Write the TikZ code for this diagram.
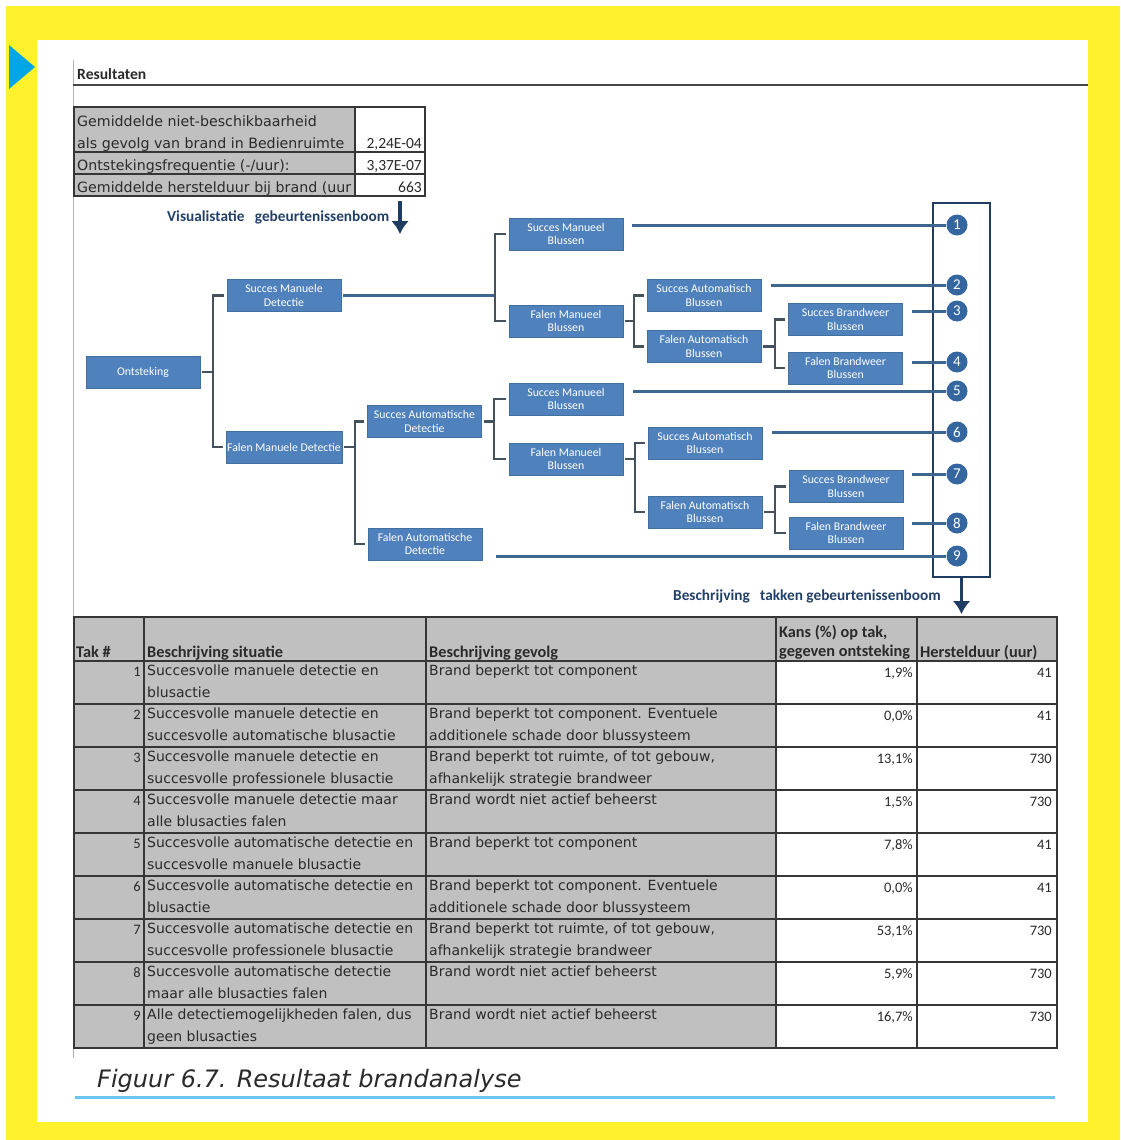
\documentclass[tikz,border=0pt]{standalone}
\usepackage{fontspec}
\setmainfont{DejaVu Sans}
\newfontfamily\calfont{Carlito}
\usetikzlibrary{arrows.meta,calc}

\definecolor{pageyellow}{HTML}{FFF12C}
\definecolor{markerblue}{HTML}{00A6E6}
\definecolor{boxblue}{HTML}{4F81BD}
\definecolor{boxedge}{HTML}{41709F}
\definecolor{linkblue}{HTML}{3D6690}
\definecolor{bracketgray}{HTML}{46515E}
\definecolor{navy}{HTML}{1F3D63}
\definecolor{numblue}{HTML}{3566A0}
\definecolor{cellgray}{HTML}{C0C0C0}
\definecolor{gridline}{HTML}{363636}
\definecolor{inktext}{HTML}{2A2A2A}
\definecolor{rulecyan}{HTML}{6CC6EE}
\definecolor{titleblue}{HTML}{23406A}

% two lines of text in one cell; the second is set only when given
\newcommand\lineifany[4]{%
  \if\relax\detokenize{#4}\relax\else
    \node[body, anchor=base west] (#1) at (#2,#3) {#4};
  \fi}

% one row of the branch table
\newcommand\tabrow[8]{%
  \pgfmathsetmacro\rowtop{661+43*(#1-1)}
  \node[num, anchor=base east] (tak#1) at (141,\rowtop+15) {#2};
  \node[body, anchor=base west] (sit#1a) at (147,\rowtop+14.5) {#3};
  \lineifany{sit#1b}{147}{\rowtop+36.5}{#4}
  \node[body, anchor=base west] (gev#1a) at (429,\rowtop+14.5) {#5};
  \lineifany{gev#1b}{429}{\rowtop+36.5}{#6}
  \node[num, anchor=base east] (kans#1) at (913,\rowtop+16) {#7};
  \node[num, anchor=base east] (hd#1) at (1052,\rowtop+16) {#8};
}

% a parent event split into two child events with a square bracket
\newcommand\branchpair[5][brk]{%
  \coordinate (#2-k) at (#3,0);
  \draw[#1] ($(#2.east)+(2,0)$) -- (#2.east -| #2-k);
  \draw[brk] ($(#4.west)+(-3,0)$) -- (#4.west -| #2-k) -- (#5.west -| #2-k) -- ($(#5.west)+(-3,0)$);
}

\begin{document}
\begin{tikzpicture}[x=1pt,y=-1pt,
  evt/.style={draw=boxedge, line width=0.6pt, fill=boxblue, text=white,
    font=\calfont\fontsize{11.8}{13.5}\selectfont, align=center,
    minimum width=114pt, minimum height=32pt, inner sep=1pt},
  brk/.style={draw=bracketgray, line width=2.5pt, line join=miter},
  lnk/.style={draw=linkblue, line width=3pt},
  endno/.style={circle, fill=numblue, text=white,
    font=\calfont\fontsize{15}{15}\selectfont, minimum size=21pt, inner sep=0pt},
  body/.style={font=\fontsize{14}{16}\selectfont, text=inktext, inner sep=0pt},
  topbody/.style={font=\fontsize{14.2}{16}\selectfont, text=inktext, inner sep=0pt},
  hdr/.style={font=\calfont\bfseries\fontsize{16.3}{18}\selectfont, text=inktext, inner sep=0pt},
  num/.style={font=\calfont\fontsize{14.5}{16}\selectfont, text=inktext, inner sep=0pt},
  grid/.style={draw=gridline, line width=1.6pt},
  bigarrow/.style={draw=navy, line width=3.2pt, -{Latex[length=13pt,width=18pt]}},
  headline/.style={font=\calfont\bfseries\fontsize{15.3}{17}\selectfont, text=titleblue, inner sep=0pt}
]
\useasboundingbox (0,0) rectangle (1120,1140);

% frame
\fill[white] (0,0) rectangle (1120,1140);
\fill[pageyellow] (6,6) rectangle (1120,1140);
\fill[white] (37,40) rectangle (1088,1122);
\fill[markerblue] (9,45) -- (35,67) -- (9,89) -- cycle;

% sheet rules
\draw[gray!60, line width=1pt] (73,60) -- (73,1058);
\draw[gray!55!black, line width=1.2pt] (73,85) -- (1088,85);
\node[font=\calfont\bfseries\fontsize{15.6}{17}\selectfont, text=inktext, inner sep=0pt, anchor=base west] (res) at (77,80) {Resultaten};

% summary table
\fill[cellgray] (74,107) rectangle (355,196);
\fill[white] (355,107) rectangle (425,196);
\draw[grid] (74,107) rectangle (425,196);
\draw[grid] (355,107) -- (355,196);
\draw[grid] (74,152) -- (425,152);
\draw[grid] (74,174) -- (425,174);
\node[topbody, anchor=base west] (g1) at (77,126) {Gemiddelde niet-beschikbaarheid};
\node[topbody, anchor=base west] (g2) at (77,148) {als gevolg van brand in Bedienruimte};
\node[topbody, anchor=base west] (g3) at (77,170) {Ontstekingsfrequentie (-/uur):};
\begin{scope}
  \clip (74,174) rectangle (354,196);
  \node[topbody, anchor=base west] (g4) at (77,192) {Gemiddelde herstelduur bij brand (uur};
\end{scope}
\node[num, font=\calfont\fontsize{15.5}{16}\selectfont, anchor=base east] (v1) at (422,148) {2,24E-04};
\node[num, font=\calfont\fontsize{15.5}{16}\selectfont, anchor=base east] (v2) at (422,170) {3,37E-07};
\node[num, font=\calfont\fontsize{15.5}{16}\selectfont, anchor=base east] (v3) at (422,192) {663};

% heading of the tree
\node[headline, anchor=base west] (vis) at (167,221) {Visualistatie\hspace{0.45em} gebeurtenissenboom};
\coordinate (vis-a) at (400,201);
\coordinate (vis-b) at (400,234);
\draw[bigarrow] (vis-a) -- (vis-b);

% event tree
\node[evt] (ont) at (143,372) {Ontsteking};
\node[evt] (smd) at (284,295.5) {Succes Manuele\\Detectie};
\node[evt] (fmd) at (284,447) {Falen Manuele Detectie};
\node[evt] (sad) at (424.5,421.5) {Succes Automatische\\Detectie};
\node[evt] (fad) at (425,544) {Falen Automatische\\Detectie};
\node[evt] (smb1) at (566,234) {Succes Manueel\\Blussen};
\node[evt] (fmb1) at (566,321) {Falen Manueel\\Blussen};
\node[evt] (sab1) at (704,295.5) {Succes Automatisch\\Blussen};
\node[evt] (fab1) at (704,346.5) {Falen Automatisch\\Blussen};
\node[evt] (sbb1) at (845.5,319.5) {Succes Brandweer\\Blussen};
\node[evt] (fbb1) at (845.5,368) {Falen Brandweer\\Blussen};
\node[evt] (smb2) at (566,399) {Succes Manueel\\Blussen};
\node[evt] (fmb2) at (566,459) {Falen Manueel\\Blussen};
\node[evt] (sab2) at (705,443) {Succes Automatisch\\Blussen};
\node[evt] (fab2) at (705,512) {Falen Automatisch\\Blussen};
\node[evt] (sbb2) at (846,486.5) {Succes Brandweer\\Blussen};
\node[evt] (fbb2) at (846,533) {Falen Brandweer\\Blussen};

\branchpair{ont}{213}{smd}{fmd}
\branchpair[lnk]{smd}{495}{smb1}{fmb1}
\branchpair{fmb1}{634}{sab1}{fab1}
\branchpair{fab1}{775}{sbb1}{fbb1}
\branchpair{fmd}{355}{sad}{fad}
\branchpair{sad}{494}{smb2}{fmb2}
\branchpair{fmb2}{635}{sab2}{fab2}
\branchpair{fab2}{775}{sbb2}{fbb2}

% outcome column
\node[draw=navy, line width=2.5pt, minimum width=57pt, minimum height=374pt, inner sep=0pt] (ends) at (961.5,390) {};
\node[endno] (n1) at (957,225) {1};
\node[endno] (n2) at (957,285) {2};
\node[endno] (n3) at (957,311) {3};
\node[endno] (n4) at (957,362) {4};
\node[endno] (n5) at (957,391) {5};
\node[endno] (n6) at (957,432) {6};
\node[endno] (n7) at (957,474) {7};
\node[endno] (n8) at (957,523) {8};
\node[endno] (n9) at (957,556) {9};
\draw[lnk] ($(smb1.east |- n1)+(9,0)$) -- (n1.west);
\draw[lnk] ($(sab1.east |- n2)+(10,0)$) -- (n2.west);
\draw[lnk] ($(sbb1.east |- n3)+(9,0)$) -- (n3.west);
\draw[lnk] ($(fbb1.east |- n4)+(9,0)$) -- (n4.west);
\draw[lnk] ($(smb2.east |- n5)+(10,0)$) -- (n5.west);
\draw[lnk] ($(sab2.east |- n6)+(10,0)$) -- (n6.west);
\draw[lnk] ($(sbb2.east |- n7)+(9,0)$) -- (n7.west);
\draw[lnk] ($(fbb2.east |- n8)+(9,0)$) -- (n8.west);
\draw[lnk] ($(fad.east |- n9)+(14,0)$) -- (n9.west);

\node[headline, anchor=base west] (besch) at (673,600) {Beschrijving\hspace{0.45em} takken gebeurtenissenboom};
\coordinate (tab-in) at (961.5,614);
\draw[bigarrow] (ends.south) -- (tab-in);

% branch table
\fill[cellgray] (74,617) rectangle (776,1048);
\fill[cellgray] (776,617) rectangle (1057,661);
\fill[white] (776,661) rectangle (1057,1048);
\draw[grid] (74,617) rectangle (1057,1048);
\foreach \x in {144,426,776,917} \draw[grid] (\x,617) -- (\x,1048);
\foreach \i in {0,...,8} \draw[grid] (74,{661+43*\i}) -- (1057,{661+43*\i});

\node[hdr, anchor=base west] (hTak) at (76,657) {Tak \#};
\node[hdr, anchor=base west] (hSit) at (147,657) {Beschrijving situatie};
\node[hdr, anchor=base west] (hGev) at (429,657) {Beschrijving gevolg};
\node[hdr, anchor=base west] (hKans1) at (779,637) {Kans (\%) op tak,};
\node[hdr, anchor=base west] (hKans2) at (779,656) {gegeven ontsteking};
\node[hdr, anchor=base west] (hHd) at (920,657) {Herstelduur (uur)};

\tabrow{1}{1}{Succesvolle manuele detectie en}{blusactie}{Brand beperkt tot component}{}{1,9\%}{41}
\tabrow{2}{2}{Succesvolle manuele detectie en}{succesvolle automatische blusactie}{Brand beperkt tot component. Eventuele}{additionele schade door blussysteem}{0,0\%}{41}
\tabrow{3}{3}{Succesvolle manuele detectie en}{succesvolle professionele blusactie}{Brand beperkt tot ruimte, of tot gebouw,}{afhankelijk strategie brandweer}{13,1\%}{730}
\tabrow{4}{4}{Succesvolle manuele detectie maar}{alle blusacties falen}{Brand wordt niet actief beheerst}{}{1,5\%}{730}
\tabrow{5}{5}{Succesvolle automatische detectie en}{succesvolle manuele blusactie}{Brand beperkt tot component}{}{7,8\%}{41}
\tabrow{6}{6}{Succesvolle automatische detectie en}{blusactie}{Brand beperkt tot component. Eventuele}{additionele schade door blussysteem}{0,0\%}{41}
\tabrow{7}{7}{Succesvolle automatische detectie en}{succesvolle professionele blusactie}{Brand beperkt tot ruimte, of tot gebouw,}{afhankelijk strategie brandweer}{53,1\%}{730}
\tabrow{8}{8}{Succesvolle automatische detectie}{maar alle blusacties falen}{Brand wordt niet actief beheerst}{}{5,9\%}{730}
\tabrow{9}{9}{Alle detectiemogelijkheden falen, dus}{geen blusacties}{Brand wordt niet actief beheerst}{}{16,7\%}{730}

% caption
\node[anchor=base west, font=\itshape\fontsize{24}{26}\selectfont, text=inktext, inner sep=0pt] (cap) at (97,1087) {Figuur 6.7. Resultaat brandanalyse};
\draw[rulecyan, line width=3pt] (75,1097) -- (1055,1097);
\end{tikzpicture}
\end{document}
